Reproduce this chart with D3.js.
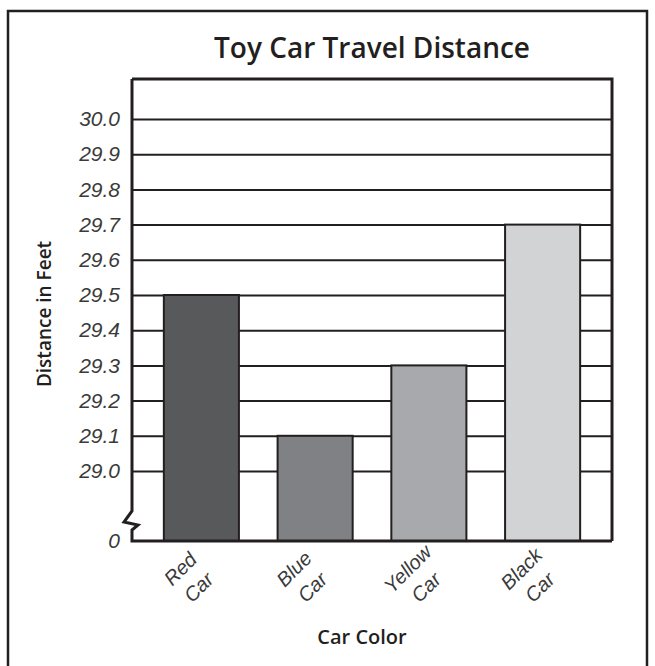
<!DOCTYPE html>
<html>
<head>
<meta charset="utf-8">
<script src="https://cdn.jsdelivr.net/npm/d3@7"></script>
<style>
  body { margin: 0; background: #fff; }
  .tick text, .xlab text { font-family: "Liberation Sans", Arial, sans-serif; font-style: italic; fill: #3a3a3a; }
  .ttl { font-family: "Open Sans", "Noto Sans", sans-serif; font-weight: 600; fill: #231f20; }
</style>
</head>
<body>
<svg id="chart"></svg>
<script>
// chart values
const categories = [["Red", "Car"], ["Blue", "Car"], ["Yellow", "Car"], ["Black", "Car"]];
const distances = [29.5, 29.1, 29.3, 29.7];
const yTicks = [29.0, 29.1, 29.2, 29.3, 29.4, 29.5, 29.6, 29.7, 29.8, 29.9, 30.0];
const barFills = ["#58595b", "#808184", "#a7a9ac", "#d1d3d4"];

const W = 655, H = 666;
const ink = "#231f20";
const plot = { left: 132, right: 612, top: 79, bottom: 541 };

const svg = d3.select("#chart").attr("width", W).attr("height", H);

// outer card border
svg.append("rect")
    .attr("x", 8).attr("y", 11)
    .attr("width", 639).attr("height", H + 20)
    .attr("fill", "none").attr("stroke", ink).attr("stroke-width", 2.5);

const x = d3.scaleBand()
    .domain(d3.range(categories.length))
    .range([plot.left, plot.right])
    .paddingInner(0.34)
    .paddingOuter(0.28);

// broken axis: only 29.0 - 30.0 is to scale, 0 sits on the baseline
const y = d3.scaleLinear().domain([29, 30]).range([471, 119]);

// gridlines + tick labels
const yAxis = d3.axisLeft(y)
    .tickValues(yTicks)
    .tickSize(-(plot.right - plot.left))
    .tickPadding(12)
    .tickFormat(d3.format(".1f"));

svg.append("g")
    .attr("transform", `translate(${plot.left},0)`)
    .call(yAxis)
    .call(g => g.select(".domain").remove())
    .call(g => g.selectAll(".tick line").attr("stroke", ink).attr("stroke-width", 2))
    .call(g => g.selectAll(".tick text").attr("font-size", 21));

// the "0" label at the baseline
svg.append("g").attr("class", "tick")
    .append("text")
    .attr("x", plot.left - 12).attr("y", plot.bottom)
    .attr("dy", "0.32em")
    .attr("text-anchor", "end")
    .attr("font-size", 21)
    .text("0");

// bars
svg.append("g").selectAll("rect")
    .data(distances)
    .join("rect")
    .attr("x", (d, i) => x(i))
    .attr("width", x.bandwidth())
    .attr("y", d => y(d))
    .attr("height", d => plot.bottom - y(d))
    .attr("fill", (d, i) => barFills[i])
    .attr("stroke", ink)
    .attr("stroke-width", 2);

// plot frame: top + right
svg.append("path")
    .attr("d", `M${plot.left},${plot.top}H${plot.right}V${plot.bottom}`)
    .attr("fill", "none").attr("stroke", ink).attr("stroke-width", 3);

// left axis with zigzag break + baseline
const bx = plot.left, by = plot.bottom;
svg.append("path")
    .attr("d", `M${bx},${plot.top}V${by - 30}L${bx - 8},${by - 19}L${bx + 6},${by - 16}L${bx},${by - 11}V${by}H${plot.right}`)
    .attr("fill", "none").attr("stroke", ink).attr("stroke-width", 3)
    .attr("stroke-linejoin", "miter");

// x category labels, two lines, rotated
const xl = svg.append("g").attr("class", "xlab")
    .selectAll("g")
    .data(categories)
    .join("g")
    .attr("transform", (d, i) => `translate(${x(i) + x.bandwidth() / 2 - 12},578) rotate(-45)`);

xl.selectAll("text")
    .data(d => d)
    .join("text")
    .attr("text-anchor", "middle")
    .attr("dominant-baseline", "central")
    .attr("y", (d, j) => j === 0 ? -13 : 13)
    .attr("font-size", 20)
    .text(d => d);

// titles
svg.append("text").attr("class", "ttl")
    .attr("x", 372).attr("y", 58)
    .attr("text-anchor", "middle")
    .attr("font-size", 28)
    .text("Toy Car Travel Distance");

svg.append("text").attr("class", "ttl")
    .attr("transform", `translate(51,314) rotate(-90)`)
    .attr("text-anchor", "middle")
    .attr("font-size", 19)
    .text("Distance in Feet");

svg.append("text").attr("class", "ttl")
    .attr("x", 362).attr("y", 644)
    .attr("text-anchor", "middle")
    .attr("font-size", 20)
    .text("Car Color");
</script>
</body>
</html>
